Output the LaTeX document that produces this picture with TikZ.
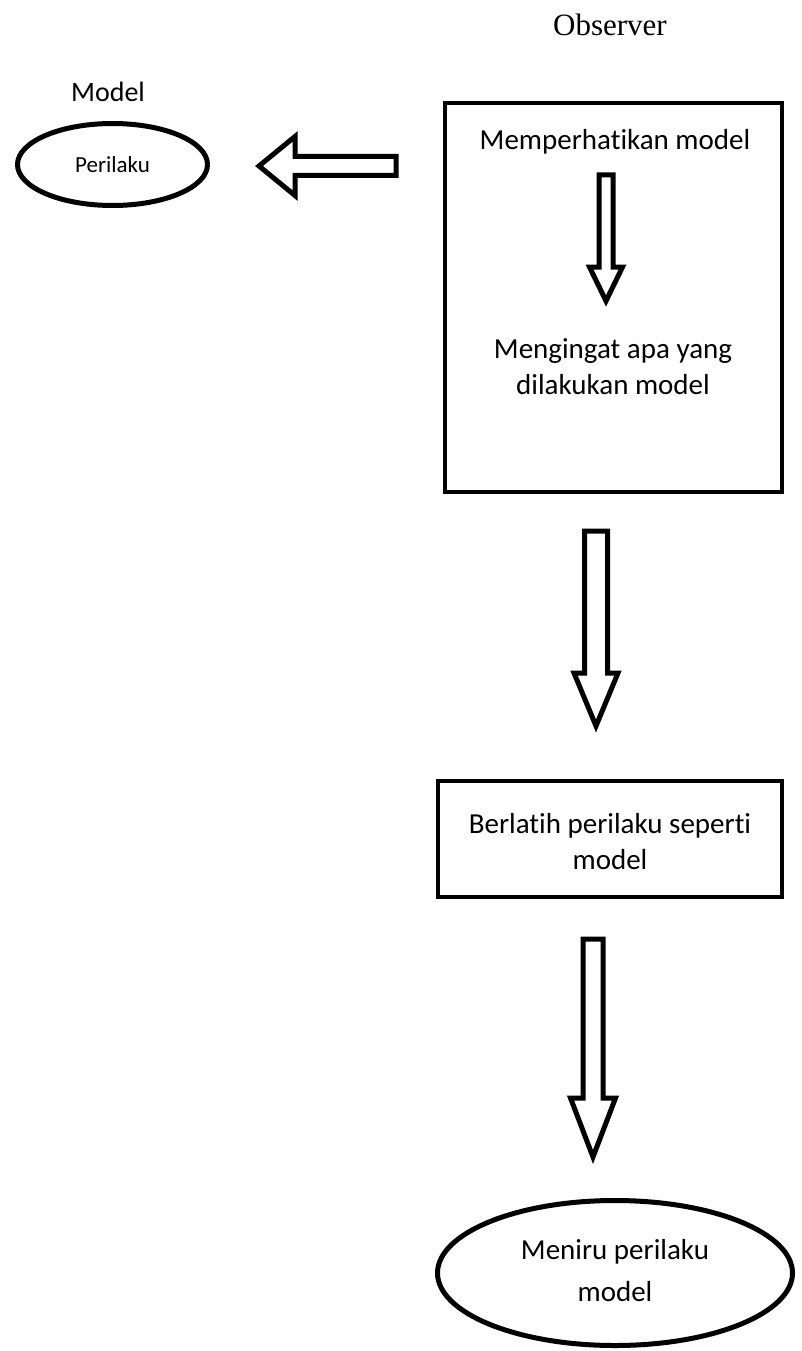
\documentclass[tikz,border=0pt]{standalone}
\usepackage{fontspec}
\setmainfont{Carlito}[Ligatures=NoCommon]
\newfontfamily\obsfont{Liberation Serif}
\usetikzlibrary{shapes.geometric}
\newcommand{\BlkDown}[6]{% cx, ytop, ytip, yshoulder, halfshaft, halfhead
  \draw[blkarrow] (#1-#5,#2) -- (#1+#5,#2) -- (#1+#5,#4) -- (#1+#6,#4) -- (#1,#3) -- (#1-#6,#4) -- (#1-#5,#4) -- cycle;}
\newcommand{\BlkLeft}[6]{% cy, xtail, xtip, xshoulder, halfshaft, halfhead
  \draw[blkarrow] (#2,#1-#5) -- (#2,#1+#5) -- (#4,#1+#5) -- (#4,#1+#6) -- (#3,#1) -- (#4,#1-#6) -- (#4,#1-#5) -- cycle;}
\begin{document}
\begin{tikzpicture}[x=1pt,y=-1pt,
  maintext/.style={font=\fontsize{29}{36}\selectfont, align=center, inner sep=0pt},
  boxframe/.style={draw, line width=4.5pt, inner sep=0pt},
  ellframe/.style={draw, ellipse, line width=5pt, inner sep=0pt},
  blkarrow/.style={draw, line width=5pt, line join=miter, fill=white}]
\useasboundingbox (0,0) rectangle (801,1351);
% titles
\node[font=\obsfont\fontsize{31}{36}\selectfont, inner sep=0pt] (obs) at (610,25) {Observer};
\node[font=\fontsize{28}{34}\selectfont, inner sep=0pt] (mdl) at (108,92) {Model};
% model ellipse
\node[ellframe, minimum width=190pt, minimum height=82pt] (per) at (112.5,164.5) {};
\node[font=\fontsize{23}{27}\selectfont, inner sep=0pt] (pert) at (per.center) {Perilaku};
% observer box
\node[boxframe, minimum width=337pt, minimum height=389pt] (box1) at (613.5,297.5) {};
\node[maintext] (t1) at (615,142) {Memperhatikan model};
\node[maintext] (t2) at (613,367) {Mengingat apa yang\\dilakukan model};
% second box
\node[boxframe, minimum width=344pt, minimum height=116pt] (box2) at (610,839) {};
\node[maintext] (t3) at (box2.center) [yshift=-3pt] {Berlatih perilaku seperti\\model};
% final ellipse
\node[ellframe, minimum width=355pt, minimum height=145pt] (ell2) at (615,1273) {};
\node[maintext, font=\fontsize{29}{42}\selectfont] (t4) at (615,1271) {Meniru perilaku\\model};
% block arrows
\BlkLeft{166}{396}{259}{295}{9.5}{29.5}
\BlkDown{606}{175}{301}{267}{7}{16.5}
\BlkDown{596}{531}{726}{673}{11.5}{22}
\BlkDown{593}{939}{1157}{1098}{10}{22.5}
\end{tikzpicture}
\end{document}
